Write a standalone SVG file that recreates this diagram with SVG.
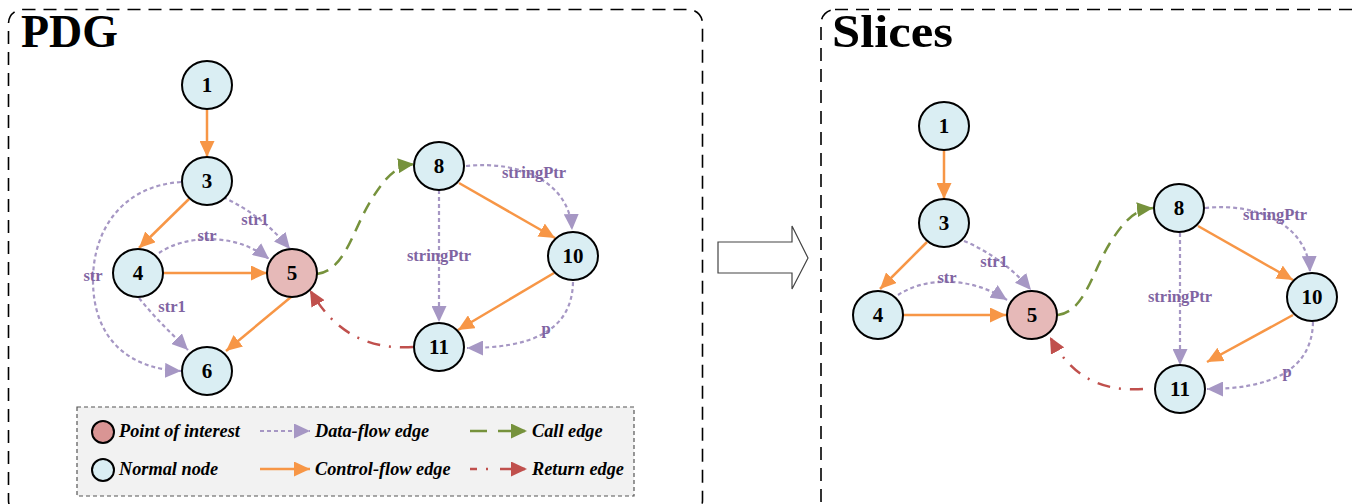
<svg xmlns="http://www.w3.org/2000/svg" width="1353" height="504" viewBox="0 0 1353 504">
  <style>
    .frame { fill: none; stroke: #000; stroke-width: 1.6; stroke-dasharray: 13 8; }
    .title { font-family: "Liberation Serif", serif; font-weight: bold; font-size: 46px; fill: #000; }
    .node { fill: #daeef3; stroke: #000; stroke-width: 2; }
    .poi { fill: #e6b9b8; stroke: #000; stroke-width: 2; }
    .nlabel { font-family: "Liberation Serif", serif; font-weight: bold; font-size: 21px; fill: #000; text-anchor: middle; }
    .elabel { font-family: "Liberation Serif", serif; font-weight: bold; font-size: 16.5px; fill: #8064a2; text-anchor: middle; }
    .ctrl { fill: none; stroke: #f79646; stroke-width: 2.5; marker-end: url(#ah-orange); }
    .data { fill: none; stroke: #a697c4; stroke-width: 2.2; stroke-dasharray: 4 3; marker-end: url(#ah-purple); }
    .call { fill: none; stroke: #76923c; stroke-width: 2.5; stroke-dasharray: 12 8; marker-end: url(#ah-green); }
    .ret { fill: none; stroke: #c0504d; stroke-width: 2.5; stroke-dasharray: 13 9 2 9; marker-end: url(#ah-red); }
    .legend-box { fill: #f2f2f2; stroke: #555; stroke-width: 1.2; stroke-dasharray: 4 3; }
    .ltext { font-family: "Liberation Serif", serif; font-weight: bold; font-style: italic; font-size: 18.3px; fill: #000; }
  </style>
  <defs>
    <marker id="ah-orange" markerUnits="userSpaceOnUse" markerWidth="17" markerHeight="15" refX="16" refY="7.5" orient="auto">
      <path d="M0,0 L16,7.5 L0,15 z" fill="#f79646"/>
    </marker>
    <marker id="ah-purple" markerUnits="userSpaceOnUse" markerWidth="17" markerHeight="15" refX="16" refY="7.5" orient="auto">
      <path d="M0,0 L16,7.5 L0,15 z" fill="#a697c4"/>
    </marker>
    <marker id="ah-green" markerUnits="userSpaceOnUse" markerWidth="17" markerHeight="15" refX="16" refY="7.5" orient="auto">
      <path d="M0,0 L16,7.5 L0,15 z" fill="#76923c"/>
    </marker>
    <marker id="ah-red" markerUnits="userSpaceOnUse" markerWidth="17" markerHeight="15" refX="16" refY="7.5" orient="auto">
      <path d="M0,0 L16,7.5 L0,15 z" fill="#c0504d"/>
    </marker>
  </defs>

  <rect width="1353" height="504" fill="#fff"/>

  <!-- panel frames -->
  <g id="frames">
    <rect class="frame" x="8.5" y="9.5" width="694" height="505" rx="14"/>
    <rect class="frame" x="821" y="9.5" width="545" height="505" rx="14"/>
    <text class="title" x="21" y="47" textLength="97" lengthAdjust="spacingAndGlyphs">PDG</text>
    <text class="title" x="832" y="47" textLength="121" lengthAdjust="spacingAndGlyphs">Slices</text>
  </g>

  <!-- block arrow between panels -->
  <g id="transform-arrow">
    <path d="M718,242 L792,242 L792,226 L808,258 L792,289 L792,273 L718,273 Z" fill="#fff" stroke="#444" stroke-width="1.2"/>
  </g>

  <!-- PDG connectors -->
  <g id="pdg-edges">
    <path class="ctrl" d="M207,109 L207,157"/>
    <path class="ctrl" d="M189,199 L139,248"/>
    <path class="ctrl" d="M163,273 L267,273"/>
    <path class="ctrl" d="M291,297 L226,351"/>
    <path class="ctrl" d="M459,183 L555,238"/>
    <path class="ctrl" d="M554,273 L458,330"/>
    <path class="data" d="M223,197 C 250,210 270,225 290,249"/>
    <path class="data" d="M159,253 C 185,235 235,232 269,259"/>
    <path class="data" d="M181,182 C 122,186 93,230 93,280 C 93,340 130,369 181,371"/>
    <path class="data" d="M139,298 C 155,318 170,332 188,350"/>
    <path class="data" d="M439,190 L439,322"/>
    <path class="data" d="M466,166 C 525,160 570,185 572,230"/>
    <path class="data" d="M573,282 C 572,332 530,348 467,348"/>
    <path class="call" d="M317,274 C 345,270 352,232 370,202 C 385,177 396,166 414,164"/>
    <path class="ret" d="M413,347 C 365,350 333,330 310,290"/>
    <text class="elabel" x="255" y="225">str1</text>
    <text class="elabel" x="207" y="241">str</text>
    <text class="elabel" x="93" y="281">str</text>
    <text class="elabel" x="172" y="312">str1</text>
    <text class="elabel" x="439" y="261">stringPtr</text>
    <text class="elabel" x="534" y="178">stringPtr</text>
    <text class="elabel" x="546" y="334">p</text>
  </g>

  <!-- PDG nodes -->
  <g id="pdg-n1"><ellipse class="node" cx="207" cy="85" rx="25" ry="24"/><text class="nlabel" x="207" y="92">1</text></g>
  <g id="pdg-n3"><ellipse class="node" cx="207" cy="181" rx="25" ry="24"/><text class="nlabel" x="207" y="188">3</text></g>
  <g id="pdg-n4"><ellipse class="node" cx="138" cy="273" rx="25" ry="24"/><text class="nlabel" x="138" y="280">4</text></g>
  <g id="pdg-n5"><ellipse class="poi" cx="292" cy="273" rx="25" ry="24"/><text class="nlabel" x="292" y="280">5</text></g>
  <g id="pdg-n6"><ellipse class="node" cx="207" cy="371" rx="25" ry="24"/><text class="nlabel" x="207" y="378">6</text></g>
  <g id="pdg-n8"><ellipse class="node" cx="439" cy="166" rx="25" ry="24"/><text class="nlabel" x="439" y="173">8</text></g>
  <g id="pdg-n10"><ellipse class="node" cx="573" cy="256" rx="25" ry="24"/><text class="nlabel" x="573" y="263">10</text></g>
  <g id="pdg-n11"><ellipse class="node" cx="439" cy="347" rx="25" ry="24"/><text class="nlabel" x="439" y="354">11</text></g>

  <!-- legend -->
  <g id="legend">
    <rect class="legend-box" x="77" y="407" width="557" height="89"/>
    <circle cx="103" cy="432" r="11" fill="#d99594" stroke="#000" stroke-width="2"/>
    <text class="ltext" x="119" y="437">Point of interest</text>
    <circle cx="103" cy="470" r="11" fill="#daeef3" stroke="#000" stroke-width="2"/>
    <text class="ltext" x="119" y="475">Normal node</text>
    <path class="data" d="M260,431 L310,431"/>
    <text class="ltext" x="315" y="437">Data-flow edge</text>
    <path class="ctrl" d="M260,469 L310,469"/>
    <text class="ltext" x="315" y="475">Control-flow edge</text>
    <path d="M470,431 L487,431 M498,431 L513,431" fill="none" stroke="#76923c" stroke-width="2.5"/>
    <path class="call" d="M513,431 L527,431" stroke-dasharray="none"/>
    <text class="ltext" x="532" y="437">Call edge</text>
    <path d="M470,469 L477,469 M486,469 L488,469 M500,469 L513,469" fill="none" stroke="#c0504d" stroke-width="2.5"/>
    <path class="ret" d="M512,469 L527,469" stroke-dasharray="none"/>
    <text class="ltext" x="532" y="475">Return edge</text>
  </g>

  <!-- Slices connectors -->
  <g id="slice-edges">
    <path class="ctrl" d="M944,151 L944,199"/>
    <path class="ctrl" d="M927,242 L880,289"/>
    <path class="ctrl" d="M903,315 L1006,315"/>
    <path class="ctrl" d="M1198,226 L1293,280"/>
    <path class="ctrl" d="M1293,315 L1207,362"/>
    <path class="data" d="M964,241 C 990,252 1012,268 1031,290"/>
    <path class="data" d="M898,295 C 925,277 970,276 1007,300"/>
    <path class="data" d="M1180,233 L1180,365"/>
    <path class="data" d="M1205,208 C 1262,202 1308,228 1310,272"/>
    <path class="data" d="M1313,322 C 1312,372 1268,389 1207,389"/>
    <path class="call" d="M1058,315 C 1085,311 1092,272 1110,243 C 1124,221 1134,210 1153,208"/>
    <path class="ret" d="M1143,389 C 1098,392 1070,374 1050,337"/>
    <text class="elabel" x="994" y="267">str1</text>
    <text class="elabel" x="947" y="283">str</text>
    <text class="elabel" x="1180" y="302">stringPtr</text>
    <text class="elabel" x="1275" y="220">stringPtr</text>
    <text class="elabel" x="1287" y="377">p</text>
  </g>

  <!-- Slices nodes -->
  <g id="slice-n1"><ellipse class="node" cx="944" cy="126" rx="25" ry="24"/><text class="nlabel" x="944" y="133">1</text></g>
  <g id="slice-n3"><ellipse class="node" cx="944" cy="223" rx="25" ry="24"/><text class="nlabel" x="944" y="230">3</text></g>
  <g id="slice-n4"><ellipse class="node" cx="878" cy="315" rx="25" ry="24"/><text class="nlabel" x="878" y="322">4</text></g>
  <g id="slice-n5"><ellipse class="poi" cx="1032" cy="315" rx="25" ry="24"/><text class="nlabel" x="1032" y="322">5</text></g>
  <g id="slice-n8"><ellipse class="node" cx="1179" cy="208" rx="25" ry="24"/><text class="nlabel" x="1179" y="215">8</text></g>
  <g id="slice-n10"><ellipse class="node" cx="1312" cy="297" rx="25" ry="24"/><text class="nlabel" x="1312" y="304">10</text></g>
  <g id="slice-n11"><ellipse class="node" cx="1180" cy="389" rx="25" ry="24"/><text class="nlabel" x="1180" y="396">11</text></g>
</svg>
